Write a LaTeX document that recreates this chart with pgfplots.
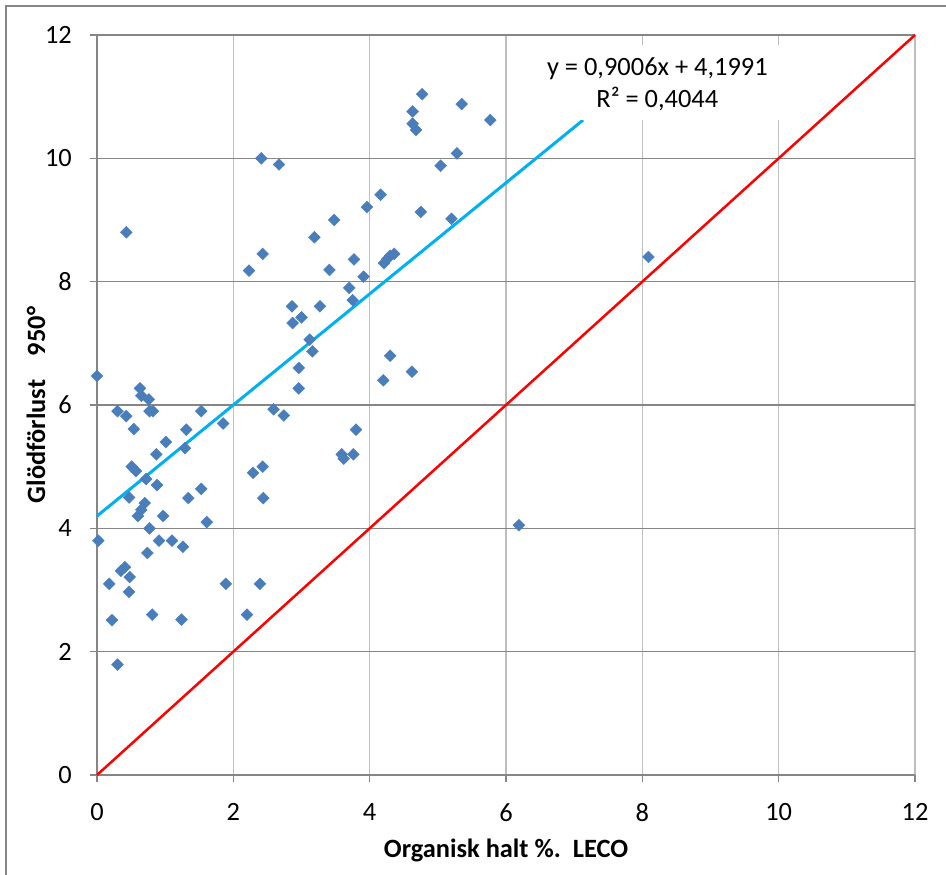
\documentclass[border=0pt]{standalone}
\usepackage{pgfplots}
\pgfplotsset{compat=1.18}
\usepackage{fontspec}
\setmainfont{Carlito}
\definecolor{mk}{RGB}{74,126,187}
\definecolor{trend}{RGB}{0,176,240}
\definecolor{hgrid}{RGB}{134,134,134}
\definecolor{vgrid}{RGB}{190,190,190}
\begin{document}
\begin{tikzpicture}[x=1bp,y=1bp]
\begin{axis}[
  at={(0,0)}, anchor=south west,
  scale only axis, width=818bp, height=740bp,
  xmin=0,xmax=12,ymin=0,ymax=12,
  xtick={0,2,...,12}, ytick={0,2,...,12},
  axis lines*=left,
  axis line style={draw=hgrid, line width=1.5bp, -},
  tick style={draw=hgrid, line width=1.5bp},
  tick align=outside, major tick length=7bp,
  grid=major,
  x grid style={draw=vgrid, line width=1.5bp},
  y grid style={draw=hgrid, line width=1.5bp},
  ticklabel style={font=\fontsize{26.5}{30}\selectfont, inner sep=0pt},
  xticklabel style={anchor=north, yshift=-21bp},
  yticklabel style={anchor=east, xshift=-18bp},
  /pgf/number format/assume math mode=true,
  xlabel={Organisk halt \%.\ \ LECO},
  ylabel={Glödförlust\hspace{0.9em}950°},
  label style={font=\bfseries\fontsize{26.5}{30}\selectfont},
  xlabel style={at={(axis description cs:0.5,-0.1014)}, anchor=center},
  ylabel style={at={(axis description cs:-0.0746,0.5)}, anchor=center},
  clip=false,
]
\addplot[only marks, mark=square*, mark size=4.2bp, mark options={rotate=45, fill=mk, draw=mk}] table {
x y
0.00 6.47
0.02 3.80
0.18 3.10
0.22 2.51
0.30 1.79
0.30 5.90
0.43 8.80
0.43 5.82
0.35 3.31
0.41 3.37
0.47 4.50
0.48 3.21
0.47 2.97
0.54 5.61
0.51 5.00
0.57 4.93
0.60 4.20
0.65 4.30
0.70 4.41
0.63 6.27
0.65 6.15
0.76 6.09
0.77 5.90
0.82 5.90
0.72 4.80
0.74 3.60
0.77 4.00
0.81 2.60
0.87 5.20
0.88 4.70
0.91 3.80
0.97 4.20
1.01 5.40
1.10 3.80
1.24 2.52
1.26 3.70
1.29 5.30
1.31 5.60
1.34 4.49
1.53 5.90
1.53 4.64
1.61 4.10
1.85 5.70
1.89 3.10
2.20 2.60
2.23 8.18
2.29 4.90
2.41 10.00
2.39 3.10
2.43 8.45
2.43 5.00
2.44 4.49
2.59 5.93
2.67 9.90
2.74 5.83
2.86 7.60
2.87 7.33
3.00 7.42
2.96 6.60
2.96 6.27
3.12 7.06
3.16 6.87
3.19 8.72
3.27 7.60
3.41 8.19
3.48 9.00
3.59 5.20
3.62 5.13
3.76 5.20
3.80 5.60
3.70 7.90
3.75 7.70
3.77 8.36
3.91 8.08
3.96 9.21
4.16 9.41
4.20 6.40
4.21 8.30
4.26 8.37
4.30 8.42
4.36 8.45
4.30 6.80
4.62 6.54
4.63 10.76
4.63 10.56
4.68 10.46
4.77 11.04
4.75 9.13
5.04 9.88
5.20 9.02
5.28 10.08
5.35 10.88
5.77 10.62
6.19 4.05
8.09 8.40
};
\addplot[draw=red, line width=2.5bp] coordinates {(0,0) (12,12)};
\addplot[draw=trend, line width=3bp] coordinates {(0,4.1991) (7.13,10.62)};
\coordinate (boxc) at (axis cs:8.295,11.23);
\coordinate (txtc) at (axis cs:8.22,11.2);
\end{axis}
\node[fill=white, inner sep=0pt, minimum width=245bp, minimum height=75bp] at (boxc) {};
\node[align=center, inner sep=0pt, font=\fontsize{26.5}{33}\selectfont] at (txtc) {y = 0,9006x + 4,1991\\R² = 0,4044};
\draw[draw=hgrid, line width=1.5bp] (-91,-105) -- (-91,769) -- (853,769);
\pgfresetboundingbox
\path[use as bounding box] (-97,-100) rectangle (849,775);
\end{tikzpicture}
\end{document}
